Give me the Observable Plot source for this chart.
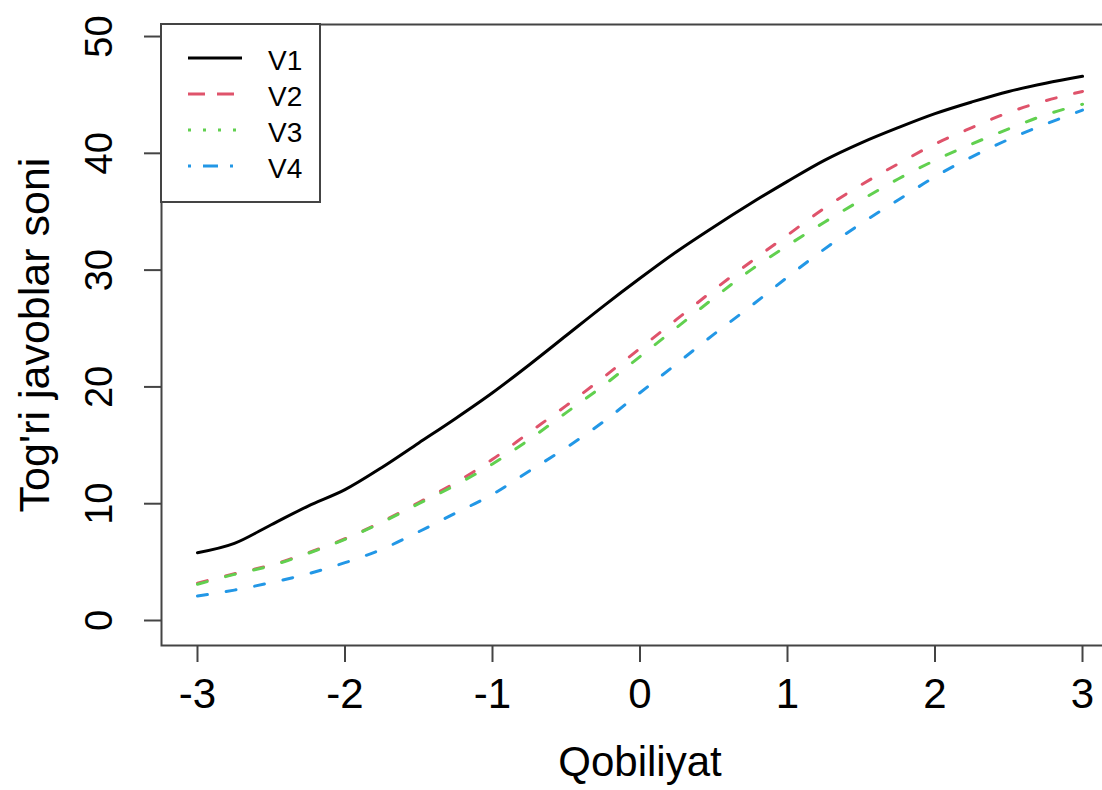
<!DOCTYPE html>
<html>
<head>
<meta charset="utf-8">
<script src="https://cdn.jsdelivr.net/npm/d3@7"></script>
<script src="https://cdn.jsdelivr.net/npm/@observablehq/plot@0.6"></script>
<style>
  html, body { margin: 0; padding: 0; background: #fff; overflow: hidden; }
  #wrap { position: relative; width: 1102px; height: 790px; font-family: "Liberation Sans", Arial, sans-serif; }
  #legend { position: absolute; left: 160px; top: 23px; }
</style>
</head>
<body>
<div id="wrap"></div>
<script>
// ---- data ----
const xs = [-3, -2.75, -2.5, -2.25, -2, -1.75, -1.5, -1.25, -1, -0.75, -0.5, -0.25, 0,
            0.25, 0.5, 0.75, 1, 1.25, 1.5, 1.75, 2, 2.25, 2.5, 2.75, 3];
const V1 = [5.8, 6.6, 8.2, 9.8, 11.2, 13.1, 15.2, 17.3, 19.5, 21.9, 24.4, 26.9, 29.3,
            31.6, 33.7, 35.7, 37.6, 39.4, 40.9, 42.2, 43.4, 44.4, 45.3, 46.0, 46.6];
const V2 = [3.2, 4.0, 4.75, 5.8, 7.0, 8.45, 10.1, 11.8, 13.8, 16.1, 18.4, 20.8, 23.3,
            25.8, 28.3, 30.7, 33.0, 35.3, 37.3, 39.1, 40.8, 42.2, 43.5, 44.5, 45.3];
const V3 = [3.1, 3.95, 4.7, 5.75, 6.95, 8.4, 10.0, 11.6, 13.4, 15.5, 17.8, 20.1, 22.6,
            25.1, 27.6, 30.0, 32.1, 34.1, 36.0, 37.8, 39.4, 40.8, 42.1, 43.3, 44.2];
const V4 = [2.1, 2.6, 3.25, 4.0, 4.95, 6.1, 7.6, 9.2, 10.8, 12.8, 14.8, 17.0, 19.5,
            22.0, 24.5, 26.9, 29.4, 31.8, 34.0, 36.0, 38.0, 39.7, 41.2, 42.5, 43.7];

const seriesNames = ["V1", "V2", "V3", "V4"];
const seriesValues = [V1, V2, V3, V4];
const seriesColors = ["#000000", "#DF536B", "#61D04F", "#2297E6"];
const plotDash = [null, "10,19", "10,19", "10,19"];
const legendDash = [null, "17,12", "3,12", "3,12,15,12"];

const xTicks = [-3, -2, -1, 0, 1, 2, 3];
const yTicks = [0, 10, 20, 30, 40, 50];
const xTitle = "Qobiliyat";
const yTitle = "Tog'ri javoblar soni";

// ---- tidy table ----
const rows = seriesNames.flatMap((name, i) =>
  xs.map((x, j) => ({series: name, x, y: seriesValues[i][j]})));

const font = "'Liberation Sans', Arial, sans-serif";
const frameColor = "#444";

const lineMarks = seriesNames.map((name, i) =>
  Plot.line(rows.filter(d => d.series === name), {
    x: "x", y: "y",
    stroke: seriesColors[i],
    strokeWidth: 3,
    strokeDasharray: plotDash[i] ?? undefined,
    curve: "monotone-x"
  }));

const chart = Plot.plot({
  width: 1102,
  height: 790,
  marginLeft: 161,
  marginRight: -16,
  marginTop: 24,
  marginBottom: 145,
  x: {domain: [-3.244, 3.244]},
  y: {domain: [-2.14, 51.03]},
  style: {fontFamily: font, color: "#000", background: "#fff", overflow: "hidden"},
  marks: [
    ...lineMarks,
    Plot.frame({stroke: frameColor, strokeWidth: 2}),
    Plot.axisX(xTicks, {
      tickSize: 17, tickPadding: 16, fontSize: 42, label: null,
      stroke: frameColor, strokeWidth: 2,
      tickFormat: d => String(d)
    }),
    Plot.axisY(yTicks, {
      tickSize: 17, label: null, stroke: frameColor, strokeWidth: 2,
      tickFormat: () => ""
    }),
    Plot.text(yTicks, {
      y: d => d, text: d => String(d),
      frameAnchor: "left", dx: -50, rotate: -90,
      textAnchor: "middle", lineAnchor: "bottom", fontSize: 38, fill: "#000"
    }),
    Plot.text([xTitle], {
      frameAnchor: "bottom", dy: 130, lineAnchor: "bottom",
      fontSize: 42, fill: "#000"
    }),
    Plot.text([yTitle], {
      frameAnchor: "left", dx: -113, rotate: -90,
      textAnchor: "middle", lineAnchor: "bottom", fontSize: 43, fill: "#000"
    })
  ]
});

const wrap = document.getElementById("wrap");
wrap.appendChild(chart);

// ---- legend (top-left, inside plot box) ----
const lg = d3.create("svg")
  .attr("id", "legend")
  .attr("width", 161)
  .attr("height", 180)
  .style("font-family", font);
lg.append("rect")
  .attr("x", 1).attr("y", 1).attr("width", 159).attr("height", 178)
  .attr("fill", "#fff").attr("stroke", frameColor).attr("stroke-width", 2);
const rowsG = lg.selectAll("g.item").data(seriesNames).join("g")
  .attr("class", "item")
  .attr("transform", (d, i) => `translate(0,${35 + i * 36})`);
rowsG.append("line")
  .attr("x1", 28).attr("x2", 82).attr("y1", 0).attr("y2", 0)
  .attr("stroke", (d, i) => seriesColors[i])
  .attr("stroke-width", 3)
  .attr("stroke-dasharray", (d, i) => legendDash[i]);
rowsG.append("text")
  .attr("x", 108).attr("y", 12)
  .attr("font-size", 28)
  .attr("fill", "#000")
  .text(d => d);
wrap.appendChild(lg.node());
</script>
</body>
</html>
